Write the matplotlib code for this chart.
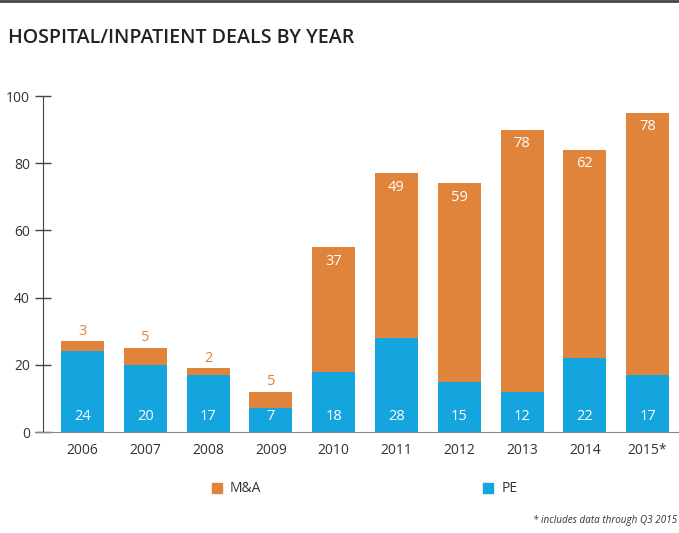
import matplotlib.pyplot as plt
from matplotlib.lines import Line2D
from matplotlib.patches import Rectangle

years = ['2006', '2007', '2008', '2009', '2010', '2011', '2012', '2013', '2014', '2015*']
pe = [24, 20, 17, 7, 18, 28, 15, 12, 22, 17]
ma = [3, 5, 2, 5, 37, 49, 59, 78, 62, 78]

orange = '#DF843A'
blue = '#14A4DE'
plt.rcParams['font.family'] = ['Open Sans', 'DejaVu Sans']

fig = plt.figure(figsize=(6.79, 5.33), dpi=100)
ax = fig.add_axes([43/679, 1-432/533, 1-43/679, (432-96)/533])

x = list(range(len(years)))
ax.bar(x, pe, width=0.685, color=blue)
ax.bar(x, ma, width=0.685, bottom=pe, color=orange)

for i in x:
    ax.text(i, 4.5, str(pe[i]), ha='center', va='center', color='white', fontsize=10.5)
    top = pe[i] + ma[i]
    if ma[i] < 10:
        ax.text(i, top + 3, str(ma[i]), ha='center', va='center', color=orange, fontsize=10.5)
    else:
        ax.text(i, top - 4.2, str(ma[i]), ha='center', va='center', color='white', fontsize=10.5)

ax.set_xlim(-0.63, 9.5)
ax.set_ylim(0, 100)
ax.set_yticks([0, 20, 40, 60, 80, 100])
ax.set_xticks(x)
ax.set_xticklabels(years)
for s in ['top', 'right']:
    ax.spines[s].set_visible(False)
ax.spines['left'].set_color('#444444')
ax.spines['bottom'].set_color('#888888')
ax.spines['bottom'].set_bounds(-0.76, 9.5)
ax.tick_params(axis='y', direction='inout', length=11, width=1, color='#444444',
               labelsize=10, labelcolor='#333333', pad=4)
ax.tick_params(axis='x', length=0, labelsize=10, labelcolor='#333333', pad=8)
ax.spines['bottom'].set_clip_on(False)

fig.text(8/679, 1-38/533, 'HOSPITAL/INPATIENT DEALS BY YEAR', fontsize=14.1,
         fontweight='semibold', color='#222222', va='center', family=['Open Sans', 'DejaVu Sans'])
fig.add_artist(Line2D([0, 1], [1-0.8/533, 1-0.8/533], color='#444444', lw=2))

fig.add_artist(Rectangle((212/679, 1-493/533), 10/679, 10/533, color=orange))
fig.text(230/679, 1-488/533, 'M&A', fontsize=10, color='#333333', va='center')
fig.add_artist(Rectangle((483/679, 1-493/533), 10/679, 10/533, color=blue))
fig.text(502/679, 1-488/533, 'PE', fontsize=10, color='#333333', va='center')
fig.text(677/679, 1-520/533, '* includes data through Q3 2015', fontsize=7.1,
         style='italic', color='#333333', ha='right', va='center')

fig.savefig('out.png', dpi=100)
